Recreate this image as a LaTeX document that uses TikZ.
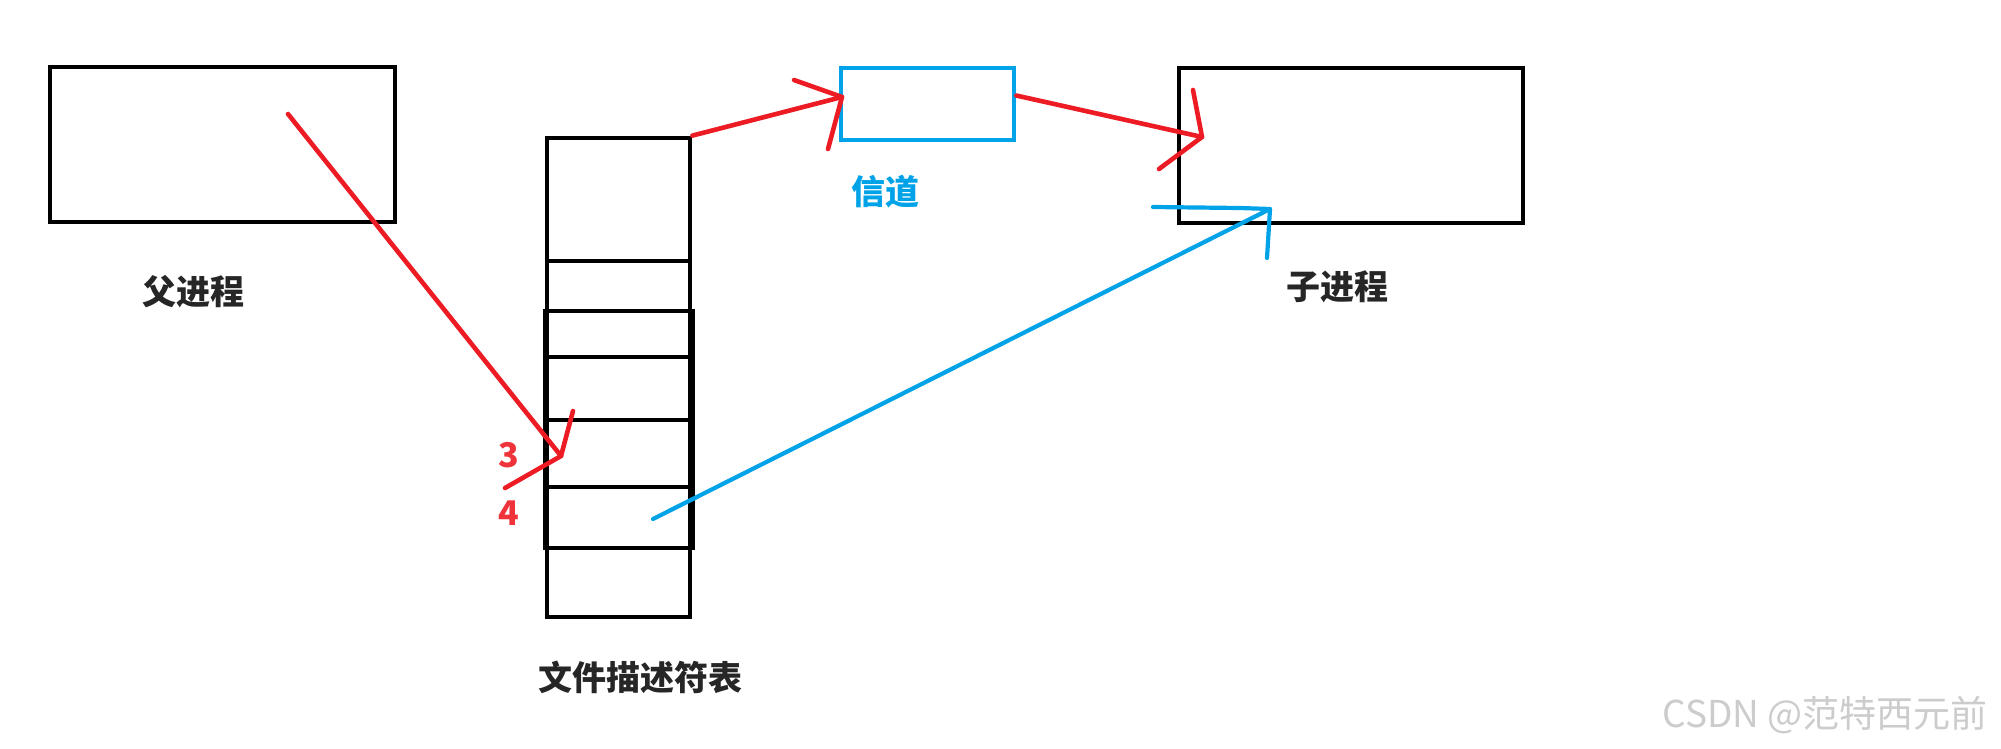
\documentclass[tikz,border=0pt]{standalone}
\usepackage{fontspec}
\newfontfamily\cjk{Noto Sans CJK SC}
\usepackage{tikz}
\usetikzlibrary{calc,positioning}
\definecolor{paintred}{HTML}{ED1C24}
\definecolor{paintblue}{HTML}{00A2E8}
\definecolor{inkgray}{HTML}{262626}
\tikzset{
    box/.style={
      rectangle,
      draw=black, line width=2.4pt,
      inner sep=0pt},
    cell/.style={box, minimum width=71.5pt},
    pipebox/.style={box, draw=paintblue},
    caption/.style={
      font=\cjk\bfseries\fontsize{17}{20}\selectfont,
      text=inkgray, inner sep=0pt},
    fdnum/.style={caption, text=paintred!90!white},
    redline/.style={draw=paintred, line width=2.3pt, line cap=round, line join=round},
    blueline/.style={draw=paintblue, line width=2.1pt, line cap=round, line join=round},
}
\begin{document}
\begin{tikzpicture}[x=0.5pt, y=-0.5pt]
      \useasboundingbox[fill=white] (0,0) rectangle (2001,749);
      \node[box, minimum width=172.5pt, minimum height=77.5pt] (parent) at (222.5,144.5) {};
      \node[caption] (parentText) at (193,292) {父进程};
      \node[box, minimum width=172pt, minimum height=77.5pt] (child) at (1351,145.5) {};
      \node[caption] (childText) at (1337,287) {子进程};
      \node[pipebox, minimum width=86.5pt, minimum height=36pt] (pipe) at (927.5,104) {};
      \node[caption, text=paintblue] (pipeText) at (885,192) {信道};
      \node[cell, minimum height=61.5pt] (row0) at (618.5,199.5) {};
      \node[cell, minimum height=25pt] (row1) at (618.5,286) {};
      \node[cell, minimum height=23pt] (row2) at (618.5,334) {};
      \node[cell, minimum height=31.5pt] (row3) at (618.5,388.5) {};
      \node[cell, minimum height=33.5pt] (row4) at (618.5,453.5) {};
      \node[cell, minimum height=30.5pt] (row5) at (618.5,517.5) {};
      \node[cell, minimum height=34.5pt] (row6) at (618.5,582.5) {};
      \node[box, minimum width=74pt, minimum height=118.5pt] (rowDup) at (619,429.5) {};
      \node[caption] (tableText) at (640,677) {文件描述符表};
      \node[fdnum] (num3) at (509,455) {3};
      \node[fdnum] (num4) at (509,513) {4};
      \coordinate (parentOut) at (288,114);
      \coordinate (tip3) at (561,456);
      \coordinate (tip3a) at (573,411);
      \coordinate (tip3b) at (505,488);
      \coordinate (tipPipe) at (842,97);
      \coordinate (tipPipeA) at (794,80);
      \coordinate (tipPipeB) at (828,149);
      \coordinate (tipChild) at (1202,137);
      \coordinate (tipChildA) at (1193,90);
      \coordinate (tipChildB) at (1159,169);
      \coordinate (fd4Out) at (653,519);
      \coordinate (tipBlue) at (1270,209);
      \coordinate (tipBlueA) at (1153,207);
      \coordinate (tipBlueB) at (1267,258);
      \draw[redline] (parentOut) -- (tip3);
      \draw[redline] (tip3a) -- (tip3) -- (tip3b);
      \draw[redline] (row0.north east) -- (tipPipe);
      \draw[redline] (tipPipeA) -- (tipPipe) -- (tipPipeB);
      \draw[redline] ($(pipe.north east)!0.39!(pipe.south east)$) -- (tipChild);
      \draw[redline] (tipChildA) -- (tipChild) -- (tipChildB);
      \draw[blueline] (fd4Out) -- (tipBlue);
      \draw[blueline] (tipBlueA) -- (1240,208) -- (tipBlue) -- (tipBlueB);
      \node[anchor=east, inner sep=0pt, text=gray!40, font=\cjk\fontsize{18.5}{20}\selectfont] (mark) at (1988,715) {CSDN @范特西元前};
\end{tikzpicture}
\end{document}
